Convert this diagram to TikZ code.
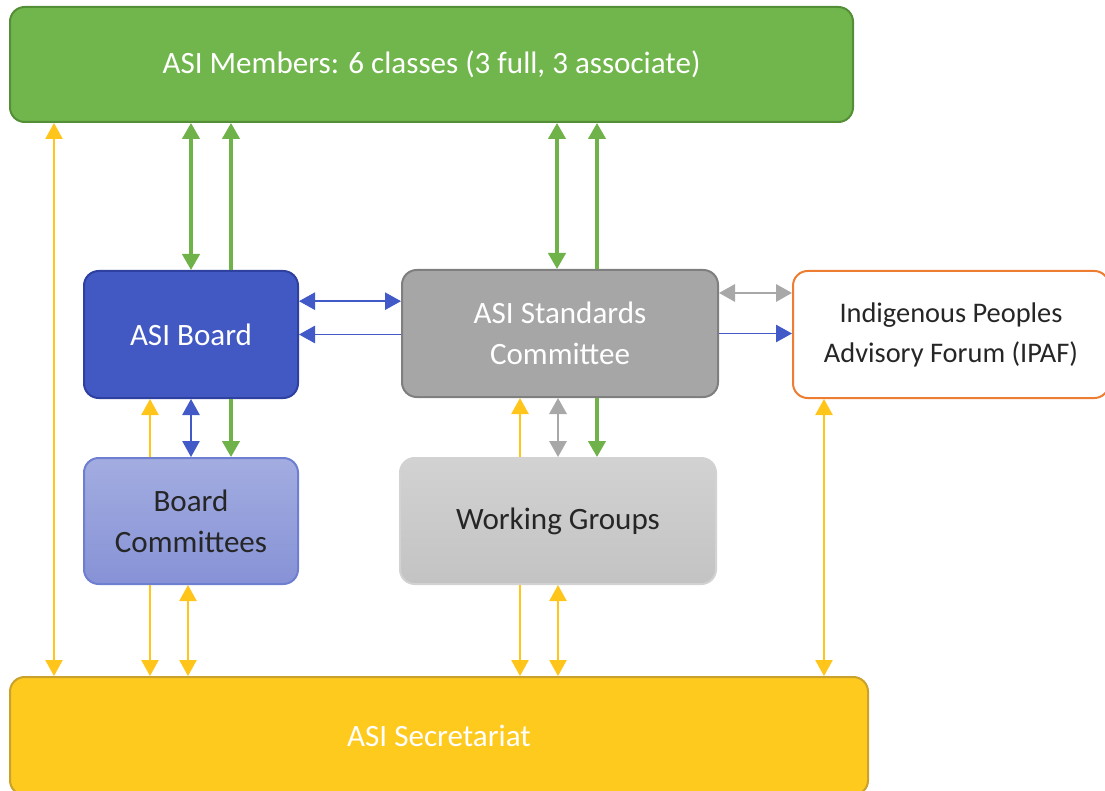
\documentclass[tikz,border=0pt]{standalone}
\usepackage{fontspec}
\setmainfont{Carlito}
\usetikzlibrary{arrows.meta,
	calc,
	positioning}
\definecolor{memgreen}{HTML}{70B64C}
\definecolor{memgreend}{HTML}{548F37}
\definecolor{brdblue}{HTML}{4259C4}
\definecolor{brdblued}{HTML}{2E40A0}
\definecolor{stdgray}{HTML}{A6A6A6}
\definecolor{stdgrayd}{HTML}{7F7F7F}
\definecolor{ipaforange}{HTML}{ED7D31}
\definecolor{bcomtop}{HTML}{A3ADE1}
\definecolor{bcombot}{HTML}{8692D6}
\definecolor{bcomd}{HTML}{6E7ED0}
\definecolor{wgtop}{HTML}{D2D2D2}
\definecolor{wgbot}{HTML}{C3C3C3}
\definecolor{secyel}{HTML}{FFCA1E}
\definecolor{secyeld}{HTML}{C9A12B}
\definecolor{arrgreen}{HTML}{70B24A}
\definecolor{arrblue}{HTML}{4259C8}
\definecolor{arryel}{HTML}{FFC51A}
\definecolor{arrgray}{HTML}{A8A8A8}
\definecolor{txtdark}{HTML}{262626}
\tikzstyle{box}=[rounded corners=11pt, line width=1.5pt, align=center,
		inner sep=0, font=\fontsize{23.3}{31}\selectfont]
\tikzstyle{wide}=[box, minimum width=237pt, minimum height=95.25pt]
\tikzstyle{narrow}=[box, minimum width=160.5pt, minimum height=95.25pt]
\tikzstyle{tip}=[>={Triangle[length=12pt,width=13pt]}]
\tikzstyle{grnarr}=[tip, draw=arrgreen, fill=arrgreen, line width=2.4pt]
\tikzstyle{bluarr}=[tip, draw=arrblue, fill=arrblue, line width=1.2pt]
\tikzstyle{gryarr}=[tip, draw=arrgray, fill=arrgray, line width=1.6pt]
\tikzstyle{ylwarr}=[tip, draw=arryel, fill=arryel, line width=1pt]
\begin{document}
\begin{tikzpicture}[x=0.75pt, y=-0.75pt]
	\useasboundingbox (0,0) rectangle (1105,791);
	% boxes
	\node[box, fill=memgreen, draw=memgreend, text=white, minimum width=632.25pt,
		minimum height=86.25pt] (members) at (431.5,64.5)
		{ASI Members: 6 classes (3 full, 3 associate)};
	\node[narrow, fill=brdblue, draw=brdblued, text=white] (board) at (191,334.5) {ASI Board};
	\node[wide, fill=stdgray, draw=stdgrayd, text=white] (stdcom) at (560,333.5)
		{ASI Standards\\Committee};
	\node[wide, fill=white, draw=ipaforange, text=txtdark,
		font=\fontsize{21.3}{30}\selectfont] (ipaf) at (951,334.5)
		{Indigenous Peoples\\Advisory Forum (IPAF)};
	\node[narrow, top color=bcomtop, bottom color=bcombot, draw=bcomd, text=txtdark,
		minimum height=94.5pt] (bcom) at (191,521) {Board\\Committees};
	\node[wide, top color=wgtop, bottom color=wgbot, draw=wgtop, text=txtdark,
		minimum height=94.5pt] (wgroups) at (558,521) {Working Groups};
	\node[box, fill=secyel, draw=secyeld, text=white, minimum width=643.5pt,
		minimum height=88.5pt] (secr) at (439,736) {ASI Secretariat};
	% members links
	\draw[grnarr, <->] (members.south -| board.north) -- (board.north);
	\draw[grnarr, ->] ([xshift=30pt]board.north) -- ([xshift=30pt]board.north |- members.south);
	\draw[grnarr, <->] ([xshift=-2.25pt]stdcom.north |- members.south) -- ([xshift=-2.25pt]stdcom.north);
	\draw[grnarr, ->] ([xshift=27.75pt]stdcom.north) -- ([xshift=27.75pt]stdcom.north |- members.south);
	% board and standards committee
	\draw[bluarr, <->] ([yshift=25pt]board.east) -- ([yshift=25pt]board.east -| stdcom.west);
	\draw[bluarr, ->] (board.east -| stdcom.west) -- (board.east);
	\draw[gryarr, <->] ([yshift=30.4pt]stdcom.east) -- ([yshift=30.4pt]stdcom.east -| ipaf.west);
	\draw[bluarr, ->] (stdcom.east) -- (stdcom.east -| ipaf.west);
	% committees and groups
	\draw[ylwarr, ->] ([xshift=-30.75pt]bcom.north) -- ([xshift=-30.75pt]bcom.north |- board.south);
	\draw[bluarr, <->] (board.south) -- (bcom.north);
	\draw[grnarr, ->] ([xshift=30pt]board.south) -- ([xshift=30pt]board.south |- bcom.north);
	\draw[ylwarr, ->] ([xshift=-28.5pt]wgroups.north) -- ([xshift=-28.5pt]wgroups.north |- stdcom.south);
	\draw[gryarr, <->] (wgroups.north |- stdcom.south) -- (wgroups.north);
	\draw[grnarr, ->] ([xshift=29.25pt]wgroups.north |- stdcom.south) -- ([xshift=29.25pt]wgroups.north);
	% secretariat links
	\draw[ylwarr, <->] ([xshift=33.75pt]members.south west) -- ([xshift=33.75pt]members.south west |- secr.north);
	\draw[ylwarr, ->] ([xshift=-30.75pt]bcom.south) -- ([xshift=-30.75pt]bcom.south |- secr.north);
	\draw[ylwarr, <->] ([xshift=-2.25pt]bcom.south) -- ([xshift=-2.25pt]bcom.south |- secr.north);
	\draw[ylwarr, ->] ([xshift=-28.5pt]wgroups.south) -- ([xshift=-28.5pt]wgroups.south |- secr.north);
	\draw[ylwarr, <->] (wgroups.south) -- (wgroups.south |- secr.north);
	\draw[ylwarr, <->] ([xshift=-95.25pt]ipaf.south) -- ([xshift=-95.25pt]ipaf.south |- secr.north);
\end{tikzpicture}
\end{document}
